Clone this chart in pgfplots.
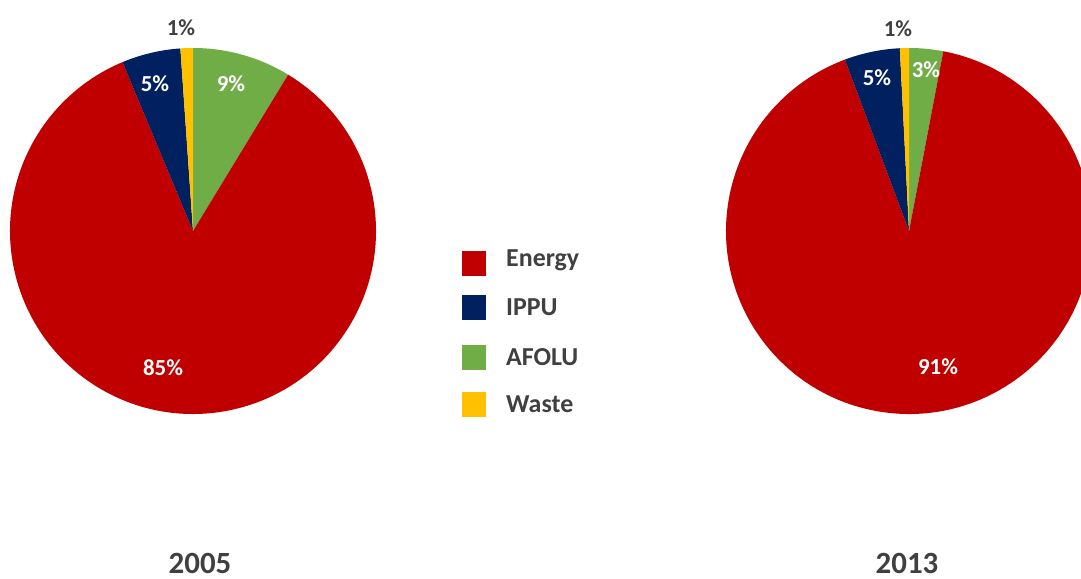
\documentclass[border=0pt]{standalone}
\usepackage{fontspec}
\setmainfont{Carlito}
\usepackage{pgfplots}
\usepackage{pgfplotstable}
\pgfplotsset{compat=1.18}
\definecolor{energy}{HTML}{C00000}
\definecolor{ippu}{HTML}{002060}
\definecolor{afolu}{HTML}{70AD47}
\definecolor{waste}{HTML}{FFC000}
\definecolor{txt}{HTML}{404040}

% slices listed clockwise from 12 o'clock
\pgfplotstableread{
cat    val   col
AFOLU  8.7   afolu
Energy 85.0  energy
IPPU   5.2   ippu
Waste  1.1   waste
}\tabA
\pgfplotstableread{
cat    val   col
AFOLU  3.0   afolu
Energy 91.3  energy
IPPU   4.9   ippu
Waste  0.8   waste
}\tabB

\newcommand\drawpie[4]{% table, cx, cy, radius
  \gdef\curang{90}%
  \pgfplotsforeachungrouped \i in {0,1,2,3}{%
    \pgfplotstablegetelem{\i}{val}\of{#1}\let\pv\pgfplotsretval
    \pgfplotstablegetelem{\i}{col}\of{#1}\let\pc\pgfplotsretval
    \pgfmathsetmacro\endang{\curang-3.6*\pv}%
    \fill[color=\pc] (axis cs:#2,#3) -- ++(\curang:#4bp)
      arc[start angle=\curang,end angle=\endang,radius=#4bp] -- cycle;
    \global\let\curang\endang
  }%
}

\begin{document}
\begin{tikzpicture}
\path[use as bounding box] (0,0) rectangle (1081bp,579bp);
\begin{axis}[
  overlay,
  at={(0,0)}, anchor=origin,
  scale only axis, width=1081bp, height=579bp,
  xmin=0, xmax=1081, ymin=0, ymax=579,
  hide axis, clip=true,
]
\pgfplotsextra{%
  \drawpie{\tabA}{193}{348}{183}%
  \drawpie{\tabB}{909}{348}{183}%
}
\begin{scope}[font=\fontsize{23}{27}\selectfont\bfseries]
% 2005 labels
\node[text=white] at (axis cs:163,211) {85\%};
\node[text=white] at (axis cs:231,495) {9\%};
\node[text=white] at (axis cs:155,495) {5\%};
\node[text=txt]   at (axis cs:181,551) {1\%};
% 2013 labels
\node[text=white] at (axis cs:938,212) {91\%};
\node[text=white] at (axis cs:926,509) {3\%};
\node[text=white] at (axis cs:877,501) {5\%};
\node[text=txt]   at (axis cs:898,550) {1\%};
\end{scope}
% legend
\fill[energy] (axis cs:462,303) rectangle (axis cs:486,328);
\fill[ippu]   (axis cs:462,259) rectangle (axis cs:486,284);
\fill[afolu]  (axis cs:462,209) rectangle (axis cs:486,234);
\fill[waste]  (axis cs:462,162) rectangle (axis cs:486,187);
\begin{scope}[font=\fontsize{26}{30}\selectfont\bfseries]
\node[text=txt,anchor=base west,inner sep=0pt] at (axis cs:506,312) {Energy};
\node[text=txt,anchor=base west,inner sep=0pt] at (axis cs:506,263) {IPPU};
\node[text=txt,anchor=base west,inner sep=0pt] at (axis cs:506,213) {AFOLU};
\node[text=txt,anchor=base west,inner sep=0pt] at (axis cs:506,166) {Waste};
\end{scope}
\node[text=txt,font=\fontsize{31}{36}\selectfont\bfseries,anchor=base,inner sep=0pt] at (axis cs:200,6) {2005};
\node[text=txt,font=\fontsize{31}{36}\selectfont\bfseries,anchor=base,inner sep=0pt] at (axis cs:907,6) {2013};
\end{axis}
\end{tikzpicture}
\end{document}
